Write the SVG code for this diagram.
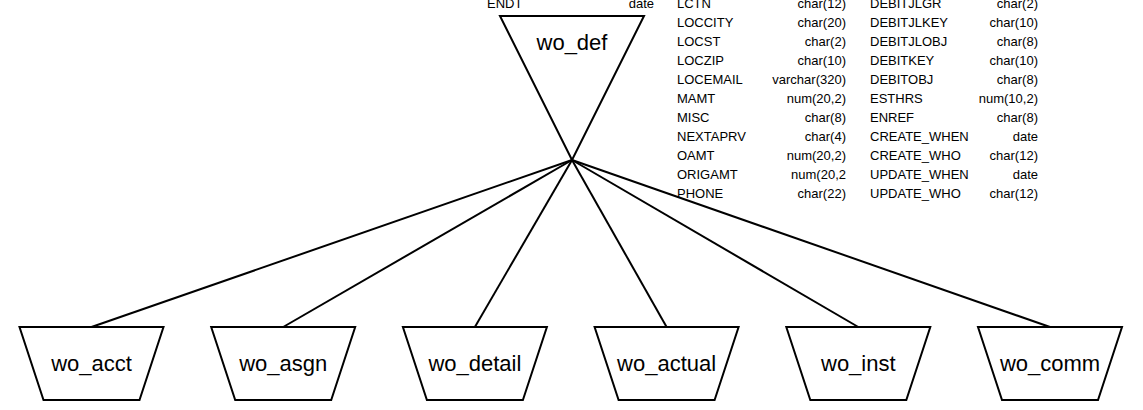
<svg xmlns="http://www.w3.org/2000/svg" width="1143" height="410" viewBox="0 0 1143 410">
<style>
.shape{fill:#ffffff;stroke:#000000;stroke-width:2;stroke-linejoin:miter}
.conn{stroke:#000000;stroke-width:2;fill:none}
.lbl{font-family:"Liberation Sans",Arial,sans-serif;font-size:22px;fill:#000000;text-anchor:middle}
.col{font-family:"Liberation Sans",Arial,sans-serif;font-size:13px;fill:#000000}
.r{text-anchor:end}
</style>
<rect width="1143" height="410" fill="#ffffff"/>
<g id="connectors">
<line class="conn" x1="572" y1="160" x2="91.5" y2="327"/>
<line class="conn" x1="572" y1="160" x2="283.2" y2="327"/>
<line class="conn" x1="572" y1="160" x2="474.9" y2="327"/>
<line class="conn" x1="572" y1="160" x2="666.6" y2="327"/>
<line class="conn" x1="572" y1="160" x2="858.3" y2="327"/>
<line class="conn" x1="572" y1="160" x2="1050" y2="327"/>
</g>
<g id="wo_def">
<polygon class="shape" points="500,16 644,16 572,160"/>
<text class="lbl" x="572" y="50">wo_def</text>
</g>
<g id="wo_def_columns">
<text class="col" x="487" y="7.5">ENDT</text><text class="col r" x="654" y="7.5">date</text>
<text class="col" x="677" y="7.5">LCTN</text><text class="col r" x="846" y="7.5">char(12)</text>
<text class="col" x="870" y="7.5">DEBITJLGR</text><text class="col r" x="1038" y="7.5">char(2)</text>
<text class="col" x="677" y="26.5">LOCCITY</text><text class="col r" x="846" y="26.5">char(20)</text>
<text class="col" x="870" y="26.5">DEBITJLKEY</text><text class="col r" x="1038" y="26.5">char(10)</text>
<text class="col" x="677" y="45.5">LOCST</text><text class="col r" x="846" y="45.5">char(2)</text>
<text class="col" x="870" y="45.5">DEBITJLOBJ</text><text class="col r" x="1038" y="45.5">char(8)</text>
<text class="col" x="677" y="64.5">LOCZIP</text><text class="col r" x="846" y="64.5">char(10)</text>
<text class="col" x="870" y="64.5">DEBITKEY</text><text class="col r" x="1038" y="64.5">char(10)</text>
<text class="col" x="677" y="83.5">LOCEMAIL</text><text class="col r" x="846" y="83.5">varchar(320)</text>
<text class="col" x="870" y="83.5">DEBITOBJ</text><text class="col r" x="1038" y="83.5">char(8)</text>
<text class="col" x="677" y="102.5">MAMT</text><text class="col r" x="846" y="102.5">num(20,2)</text>
<text class="col" x="870" y="102.5">ESTHRS</text><text class="col r" x="1038" y="102.5">num(10,2)</text>
<text class="col" x="677" y="121.5">MISC</text><text class="col r" x="846" y="121.5">char(8)</text>
<text class="col" x="870" y="121.5">ENREF</text><text class="col r" x="1038" y="121.5">char(8)</text>
<text class="col" x="677" y="140.5">NEXTAPRV</text><text class="col r" x="846" y="140.5">char(4)</text>
<text class="col" x="870" y="140.5">CREATE_WHEN</text><text class="col r" x="1038" y="140.5">date</text>
<text class="col" x="677" y="159.5">OAMT</text><text class="col r" x="846" y="159.5">num(20,2)</text>
<text class="col" x="870" y="159.5">CREATE_WHO</text><text class="col r" x="1038" y="159.5">char(12)</text>
<text class="col" x="677" y="178.5">ORIGAMT</text><text class="col r" x="846" y="178.5">num(20,2</text>
<text class="col" x="870" y="178.5">UPDATE_WHEN</text><text class="col r" x="1038" y="178.5">date</text>
<text class="col" x="677" y="197.5">PHONE</text><text class="col r" x="846" y="197.5">char(22)</text>
<text class="col" x="870" y="197.5">UPDATE_WHO</text><text class="col r" x="1038" y="197.5">char(12)</text>
</g>
<g id="wo_acct">
<polygon class="shape" points="19.5,327 163.5,327 139.5,400 43.5,400"/>
<text class="lbl" x="91.5" y="371">wo_acct</text>
</g>
<g id="wo_asgn">
<polygon class="shape" points="211.2,327 355.2,327 331.2,400 235.2,400"/>
<text class="lbl" x="283.2" y="371">wo_asgn</text>
</g>
<g id="wo_detail">
<polygon class="shape" points="402.9,327 546.9,327 522.9,400 426.9,400"/>
<text class="lbl" x="474.9" y="371">wo_detail</text>
</g>
<g id="wo_actual">
<polygon class="shape" points="594.6,327 738.6,327 714.6,400 618.6,400"/>
<text class="lbl" x="666.6" y="371">wo_actual</text>
</g>
<g id="wo_inst">
<polygon class="shape" points="786.3,327 930.3,327 906.3,400 810.3,400"/>
<text class="lbl" x="858.3" y="371">wo_inst</text>
</g>
<g id="wo_comm">
<polygon class="shape" points="978,327 1122,327 1098,400 1002,400"/>
<text class="lbl" x="1050" y="371">wo_comm</text>
</g>
</svg>
